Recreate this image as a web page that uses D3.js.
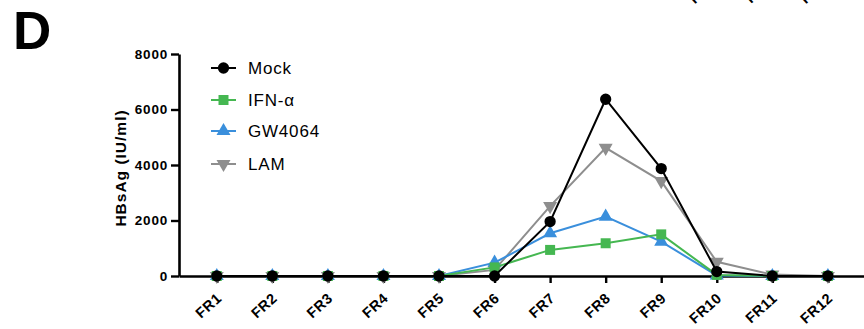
<!DOCTYPE html>
<html>
<head>
<meta charset="utf-8">
<script src="https://cdn.jsdelivr.net/npm/d3@7"></script>
<style>
  html, body { margin: 0; padding: 0; background: #fff; }
  svg { display: block; font-family: 'Liberation Sans', Arial, sans-serif; }
</style>
</head>
<body>
<svg id="chart" width="864" height="329"></svg>
<script>
// fractions on the x axis
const fractions = ['FR1', 'FR2', 'FR3', 'FR4', 'FR5', 'FR6', 'FR7', 'FR8', 'FR9', 'FR10', 'FR11', 'FR12'];
const yTicks = [0, 2000, 4000, 6000, 8000];

// HBsAg (IU/ml) per fraction
const mock = [0, 0, 0, 0, 0, 0, 1960, 6370, 3870, 160, 0, 0];
const ifn = [0, 0, 0, 0, 0, 310, 940, 1180, 1500, 40, 0, 0];
const gw4064 = [0, 0, 0, 0, 0, 480, 1540, 2140, 1240, 20, 0, 0];
const lam = [0, 0, 0, 0, 0, 220, 2520, 4620, 3420, 510, 50, 0];

const series = [
  { name: 'LAM', values: lam, color: '#8e8e8e', symbol: 'down' },
  { name: 'GW4064', values: gw4064, color: '#3a8fdc', symbol: 'up' },
  { name: 'IFN-α', values: ifn, color: '#45b751', symbol: 'square' },
  { name: 'Mock', values: mock, color: '#000000', symbol: 'circle' },
];
const legendOrder = ['Mock', 'IFN-α', 'GW4064', 'LAM'];

const svg = d3.select('#chart');

// x: one unit per fraction, axis runs from the y axis to the right edge
const x = d3.scaleLinear().domain([0.32, 12.65]).range([179, 864]);
const y = d3.scaleLinear().domain([0, 8000]).range([276, 54]);

// panel letter
svg.append('text')
  .attr('x', 13).attr('y', 49)
  .attr('font-size', 53).attr('font-weight', 'bold')
  .text('D');

// x labels, rotated
function fractionLabels(top) {
  svg.append('g')
    .selectAll('text')
    .data(fractions)
    .join('text')
    .attr('transform', (d, i) => `translate(${x(i + 1) - 1},${top}) rotate(-42)`)
    .attr('text-anchor', 'end')
    .attr('dy', '0.7em')
    .attr('font-size', 14.5).attr('font-weight', 'bold')
    .attr('letter-spacing', 0.5)
    .text((d) => d);
}

// leftover labels of the panel above (cut off at the top)
fractionLabels(293 - 321);

// y axis
const yAxis = svg.append('g')
  .attr('transform', `translate(${x(0.32)},0)`)
  .call(d3.axisLeft(y).tickValues(yTicks).tickFormat(d3.format('d'))
    .tickSize(8).tickSizeOuter(0).tickPadding(3));
yAxis.select('.domain').attr('stroke-width', 2.6);
yAxis.selectAll('.tick line').attr('stroke-width', 2.4);
yAxis.selectAll('.tick text')
  .attr('font-size', 13.5).attr('font-weight', 'bold')
  .attr('letter-spacing', 0.8).attr('fill', '#000')
  .attr('font-family', "'Liberation Sans', Arial, sans-serif");

// y title
svg.append('text')
  .attr('transform', `translate(126,168) rotate(-90)`)
  .attr('text-anchor', 'middle')
  .attr('font-size', 15.5).attr('font-weight', 'bold')
  .attr('letter-spacing', 1)
  .text('HBsAg (IU/ml)');

// lines and markers
const line = d3.line().x((d, i) => x(i + 1)).y((d) => y(d));
const symbols = {
  circle: d3.symbol(d3.symbolCircle, 100),
  square: d3.symbol(d3.symbolSquare, 100),
  up: d3.symbol(d3.symbolTriangle, 85),
};

function marker(sel, s) {
  const p = sel.append('path').attr('fill', s.color);
  if (s.symbol === 'down') {
    p.attr('d', symbols.up()).attr('transform', 'rotate(180)');
  } else {
    p.attr('d', symbols[s.symbol]());
  }
}

// x axis below the data so the markers cover it
const xAxis = svg.append('g')
  .attr('transform', `translate(0,${y(0)})`)
  .call(d3.axisBottom(x).tickValues(d3.range(1, 13)).tickSize(7).tickSizeOuter(0).tickFormat(''));
xAxis.select('.domain').attr('stroke-width', 2.6);
xAxis.selectAll('.tick line').attr('stroke-width', 2.4);

const plot = svg.append('g');
series.forEach((s) => {
  const g = plot.append('g');
  g.append('path')
    .attr('d', line(s.values))
    .attr('fill', 'none')
    .attr('stroke', s.color)
    .attr('stroke-width', 2);
  s.values.forEach((v, i) => {
    const m = g.append('g').attr('transform', `translate(${x(i + 1)},${y(v)})`);
    marker(m, s);
  });
});

fractionLabels(292);

// legend
const legend = svg.append('g');
legendOrder.forEach((name, k) => {
  const s = series.find((d) => d.name === name);
  const ly = [68, 100, 131, 164][k];
  const g = legend.append('g').attr('transform', `translate(211,${ly})`);
  g.append('line').attr('x1', 0).attr('x2', 25)
    .attr('stroke', s.color).attr('stroke-width', 2);
  const m = g.append('g').attr('transform', 'translate(12.5,0)');
  marker(m, s);
  g.append('text')
    .attr('x', 37).attr('dy', '0.36em')
    .attr('font-size', 17).attr('letter-spacing', 0.8)
    .text(name);
});
</script>
</body>
</html>
